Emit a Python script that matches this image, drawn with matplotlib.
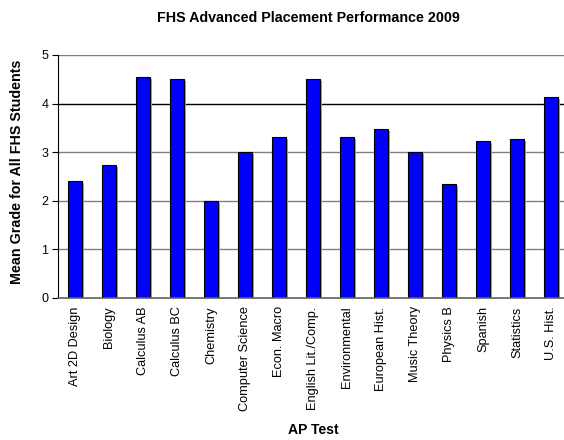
import matplotlib
matplotlib.use('Agg')
import matplotlib.pyplot as plt
import matplotlib.patheffects as pe
import numpy as np

plt.rcParams['font.family'] = ['Liberation Sans', 'DejaVu Sans']

tests = ['Art 2D Design', 'Biology', 'Calculus AB', 'Calculus BC', 'Chemistry',
         'Computer Science', 'Econ. Macro', 'English Lit./Comp.', 'Environmental',
         'European Hist.', 'Music Theory', 'Physics B', 'Spanish', 'Statistics',
         'U.S. Hist.']
mean_grade = [2.41, 2.73, 4.54, 4.51, 2.00, 3.00, 3.32, 4.51, 3.32, 3.48,
              3.00, 2.34, 3.23, 3.27, 4.13]
yticks = [0, 1, 2, 3, 4, 5]

fig = plt.figure(figsize=(5.64, 4.40), dpi=100)
ax = fig.add_axes([58 / 564, 1 - 298 / 440, 510 / 564, 243 / 440])

x = np.arange(len(tests))
for yv in yticks[1:]:
    ax.axhline(yv, color='black' if yv == 4 else '#808080', lw=1.0, zorder=1)

ax.bar(x, mean_grade, width=0.41, color='#0000ff', edgecolor='black', lw=0.8,
       zorder=3,
       path_effects=[pe.SimplePatchShadow(offset=(1.5, -1.5), shadow_rgbFace='#a0a0a0', alpha=1),
                     pe.Normal()])

ax.set_xlim(-0.5, len(tests) - 0.5)
ax.set_ylim(0, 5)
ax.set_yticks(yticks)
ax.set_xticks(x)
ax.set_xticklabels(tests, rotation=90, fontsize=9.2)
ax.tick_params(axis='y', labelsize=9, length=4, width=0.8, direction='out', pad=3)
ax.tick_params(axis='x', length=0, pad=6)

for s in ['top', 'right']:
    ax.spines[s].set_visible(False)
ax.spines['left'].set_color('black')
ax.spines['left'].set_linewidth(0.8)
ax.spines['bottom'].set_color('#606060')
ax.spines['bottom'].set_linewidth(1.2)
ax.spines['bottom'].set_zorder(4)

fig.text(17 / 564, 1 - 172 / 440, 'Mean Grade for All FHS Students', rotation=90,
         ha='center', va='center', fontsize=10.3, fontweight='bold')
fig.text(308 / 564, 1 - 18 / 440, 'FHS Advanced Placement Performance 2009',
         ha='center', va='center', fontsize=10.3, fontweight='bold')
fig.text(313 / 564, 1 - 430 / 440, 'AP Test', ha='center', va='center',
         fontsize=10.1, fontweight='bold')

fig.savefig('out.png', dpi=100)
